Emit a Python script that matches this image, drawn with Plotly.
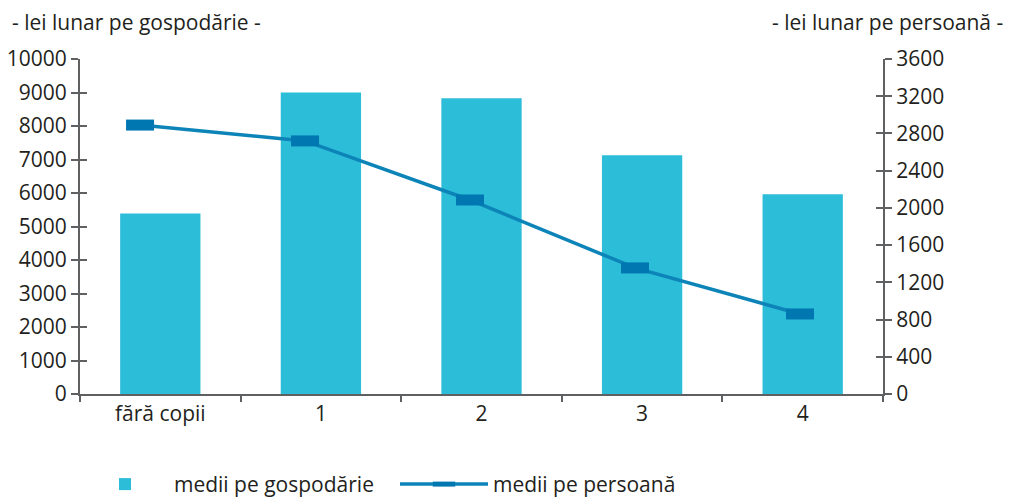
import plotly.graph_objects as go

categories = ["fără copii", "1", "2", "3", "4"]
per_household = [5390, 9000, 8830, 7125, 5960]
per_person = [2890, 2720, 2085, 1355, 860]

left_ticks = [0, 1000, 2000, 3000, 4000, 5000, 6000, 7000, 8000, 9000, 10000]
right_ticks = [0, 400, 800, 1200, 1600, 2000, 2400, 2800, 3200, 3600]

BAR_COLOR = "#2CBDD8"
LINE_COLOR = "#0D84B8"
MARKER_COLOR = "#0077B0"
AXIS_COLOR = "#5F6062"
TEXT_COLOR = "#231F20"
FONT = "Open Sans, Noto Sans, sans-serif"
FS = 21

fig = go.Figure()
fig.add_trace(go.Bar(
    x=categories, y=per_household,
    name="medii pe gospodărie",
    marker=dict(color=BAR_COLOR, line=dict(width=0)),
    width=0.5,
    xaxis="x", yaxis="y",
))
# flat rectangular markers: a thick horizontal dash
fig.add_trace(go.Scatter(
    x=categories, y=per_person,
    name="medii pe persoană",
    mode="lines+markers",
    line=dict(color=LINE_COLOR, width=3.5),
    marker=dict(symbol="line-ew", size=20, color=MARKER_COLOR,
                line=dict(color=MARKER_COLOR, width=11)),
    xaxis="x2", yaxis="y2",
))

axis_common = dict(
    showgrid=False, zeroline=False, showline=True, automargin=False,
    linecolor=AXIS_COLOR, linewidth=2,
    tickcolor=AXIS_COLOR, tickwidth=1.5,
    tickfont=dict(family=FONT, size=FS, color=TEXT_COLOR),
)

fig.update_layout(
    width=1007, height=494,
    paper_bgcolor="white", plot_bgcolor="white",
    margin=dict(l=72, r=132, t=51, b=108, autoexpand=False),
    font=dict(family=FONT, size=FS, color=TEXT_COLOR),
    xaxis=dict(
        **axis_common, type="category", ticks="outside", tickson="boundaries",
        ticklen=6, range=[-0.5, 4.5], anchor="y",
    ),
    xaxis2=dict(
        type="category", overlaying="x", range=[-0.364, 4.503],
        visible=False, anchor="y2",
    ),
    yaxis=dict(
        **axis_common, range=[0, 10000], tickvals=left_ticks, ticklen=7,
        tickformat="d", ticks="outside", side="left", anchor="x",
    ),
    yaxis2=dict(
        **axis_common, range=[0, 3600], tickvals=right_ticks, ticklen=7,
        tickformat="d", ticks="outside", side="right", overlaying="y", anchor="x",
    ),
    # duplicate axes to draw the inner half of the crossing ticks
    yaxis3=dict(
        range=[0, 10000], tickvals=left_ticks, ticks="inside", ticklen=7,
        tickcolor=AXIS_COLOR, tickwidth=1.5, showticklabels=False,
        showgrid=False, zeroline=False, showline=False, automargin=False,
        overlaying="y", side="left", anchor="x",
    ),
    yaxis4=dict(
        range=[0, 3600], tickvals=right_ticks, ticks="inside", ticklen=7,
        tickcolor=AXIS_COLOR, tickwidth=1.5, showticklabels=False,
        showgrid=False, zeroline=False, showline=False, automargin=False,
        overlaying="y", side="right", anchor="x",
    ),
    showlegend=True,
    legend=dict(
        orientation="h", x=-0.005, xanchor="left", y=-0.27, yanchor="middle",
        font=dict(family=FONT, size=FS, color=TEXT_COLOR),
        entrywidth=216, entrywidthmode="pixels", itemwidth=88,
        bgcolor="rgba(0,0,0,0)",
    ),
    annotations=[
        dict(text="- lei lunar pe gospodărie -", xref="paper", yref="paper",
             x=-0.087, y=1.11, xanchor="left", yanchor="middle",
             showarrow=False, font=dict(family=FONT, size=FS, color=TEXT_COLOR)),
        dict(text="- lei lunar pe persoană -", xref="paper", yref="paper",
             x=1.152, y=1.11, xanchor="right", yanchor="middle",
             showarrow=False, font=dict(family=FONT, size=FS, color=TEXT_COLOR)),
    ],
)

fig.add_trace(go.Scatter(x=[None], y=[None], yaxis="y3", showlegend=False, hoverinfo="skip"))
fig.add_trace(go.Scatter(x=[None], y=[None], yaxis="y4", showlegend=False, hoverinfo="skip"))

fig.write_html("out.html")
